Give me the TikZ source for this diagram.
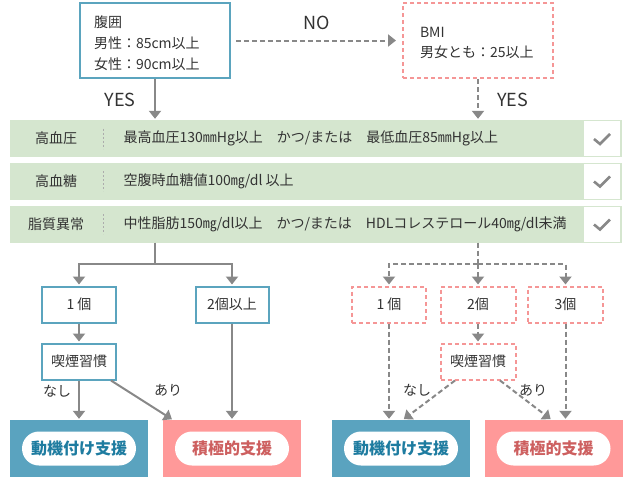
\documentclass[tikz,border=0pt]{standalone}
\usepackage{fontspec}
\setmainfont{Noto Sans CJK JP}
\usetikzlibrary{arrows.meta}
\definecolor{tealline}{RGB}{91,164,190}
\definecolor{tealfill}{RGB}{90,163,191}
\definecolor{tealtext}{RGB}{30,124,160}
\definecolor{pinkline}{RGB}{245,150,150}
\definecolor{pinkfill}{RGB}{255,153,153}
\definecolor{pinktext}{RGB}{205,95,95}
\definecolor{bandgreen}{RGB}{213,230,207}
\definecolor{arrowgray}{RGB}{136,136,136}
\definecolor{textgray}{RGB}{51,51,51}

\begin{document}
\begin{tikzpicture}[x=1pt,y=-1pt,
	every node/.style={font=\fontsize{14}{16}\selectfont, text=textgray},
	tealbox/.style={draw=tealline, line width=2pt, fill=white, minimum width=74pt, minimum height=36pt, inner sep=0pt},
	pinkbox/.style={draw=pinkline, line width=2pt, dash pattern=on 4pt off 3pt, fill=white, minimum width=75pt, minimum height=36pt, inner sep=0pt},
	gline/.style={draw=arrowgray, line width=2pt},
	garrow/.style={gline, shorten >=1pt, -{Triangle[width=12pt,length=8pt]}},
	dline/.style={gline, dash pattern=on 5pt off 3pt},
	darrow/.style={garrow, dash pattern=on 5pt off 3pt},
	bigword/.style={font=\fontsize{18}{20}\selectfont},
	pill/.style={fill=white, rounded corners=17pt, minimum width=114pt, minimum height=34pt, font=\fontsize{16}{18}\selectfont\bfseries}]
	\useasboundingbox (0,0) rectangle (630,480);

	% Start boxes
	\node[tealbox, minimum width=150pt, minimum height=75pt] (waist) at (155,40.5) {};
	\node[text width=122pt, align=left, font=\fontsize{14}{21}\selectfont] (waisttxt) at (155,43) {腹囲\\男性：85cm以上\\女性：90cm以上};
	\node[pinkbox, minimum width=150pt, minimum height=75pt] (bmi) at (478,40.5) {};
	\node[text width=116pt, align=left, font=\fontsize{14}{20}\selectfont] (bmitxt) at (478,43) {BMI\\男女とも：25以上};
	\draw[darrow] ([xshift=5pt]waist.east) -- node[above=6pt, bigword] (no) {NO} ([xshift=-5pt]bmi.west);

	% Risk rows
	\foreach \i/\y/\lab/\txt in {1/138.5/高血圧/{最高血圧130㎜Hg以上　かつ/または　最低血圧85㎜Hg以上},
		2/181/高血糖/{空腹時血糖値100㎎/dl 以上},
		3/224/脂質異常/{中性脂肪150㎎/dl以上　かつ/または　HDLコレステロール40㎎/dl未満}} {
		\node[fill=bandgreen, minimum width=612pt, minimum height=37pt, inner sep=0pt, anchor=west] (row\i) at (10,\y) {};
		\node[fill=white, minimum width=36pt, minimum height=35pt, inner sep=0pt] (chk\i) at (602,\y) {};
		\draw[arrowgray, line width=2.6pt] ([shift={(-8,0.5)}]chk\i.center) -- ++(6,5) -- ++(10,-10);
		\node (lab\i) at (56,\y) {\lab};
		\draw[arrowgray!70, line width=0.8pt, dash pattern=on 2pt off 2pt] (103,\y-10) -- (103,\y+10);
		\node[anchor=west] (txt\i) at (120,\y) {\txt};
	}
	\draw[garrow] (waist.south) -- node[left=15pt, bigword] (yesl) {YES} (waist.south |- row1.north);
	\draw[darrow] (bmi.south) -- node[right=15pt, bigword] (yesr) {YES} (bmi.south |- row1.north);

	% Left tree
	\node[tealbox] (lone) at (79,304.5) {1 個};
	\node[tealbox, minimum width=73pt] (lmany) at (232,304.5) {2個以上};
	\node[tealbox] (lsmoke) at (79,361.5) {喫煙習慣};
	\node[fill=tealfill, minimum width=138pt, minimum height=57pt] (lmot) at (79,448.5) {};
	\node[pill, text=tealtext] (lmotp) at (lmot) {動機付け支援};
	\node[fill=pinkfill, minimum width=138pt, minimum height=57pt] (lact) at (232,448.5) {};
	\node[pill, text=pinktext] (lactp) at (lact) {積極的支援};
	\coordinate (jl) at (155,264);
	\draw[gline] (waist.south |- row3.south) -- (jl);
	\draw[garrow] (jl) -| (lone.north);
	\draw[garrow] (jl) -| (lmany.north);
	\draw[garrow] (lone) -- (lsmoke);
	\draw[garrow] (lsmoke.south) -- (lsmoke.south |- lmot.north);
	\draw[garrow] ([xshift=-6pt]lsmoke.south east) -- ([xshift=10pt]lact.north west);
	\draw[garrow] (lmany.south) -- (lmany.south |- lact.north);
	\node (lno) at (57,391) {なし};
	\node (lyes) at (168,390) {あり};

	% Right tree
	\node[pinkbox, minimum width=74pt] (rone) at (389,304.5) {1 個};
	\node[pinkbox] (rtwo) at (478,304.5) {2個};
	\node[pinkbox] (rthree) at (565.5,304.5) {3個};
	\node[pinkbox] (rsmoke) at (478,361.5) {喫煙習慣};
	\node[fill=tealfill, minimum width=138pt, minimum height=57pt] (rmot) at (401,448.5) {};
	\node[pill, text=tealtext] (rmotp) at (rmot) {動機付け支援};
	\node[fill=pinkfill, minimum width=138pt, minimum height=57pt] (ract) at (553.5,448.5) {};
	\node[pill, text=pinktext] (ractp) at (ract) {積極的支援};
	\coordinate (jr) at (478,264);
	\draw[dline] (bmi.south |- row3.south) -- (jr);
	\draw[darrow] (jr) -| (rone.north);
	\draw[darrow] (jr) -- (rtwo.north);
	\draw[darrow] (jr) -| (rthree.north);
	\draw[darrow] (rtwo) -- (rsmoke);
	\draw[darrow] (rone.south) -- (rone.south |- rmot.north);
	\draw[darrow] ([xshift=-23pt]rsmoke.south) -- ([xshift=2pt]rmot.north);
	\draw[darrow] ([xshift=22pt]rsmoke.south) -- ([xshift=-2pt]ract.north);
	\draw[darrow] (rthree.south) -- (rthree.south |- ract.north);
	\node (rno) at (417,390) {なし};
	\node (ryes) at (533,390) {あり};
\end{tikzpicture}
\end{document}
